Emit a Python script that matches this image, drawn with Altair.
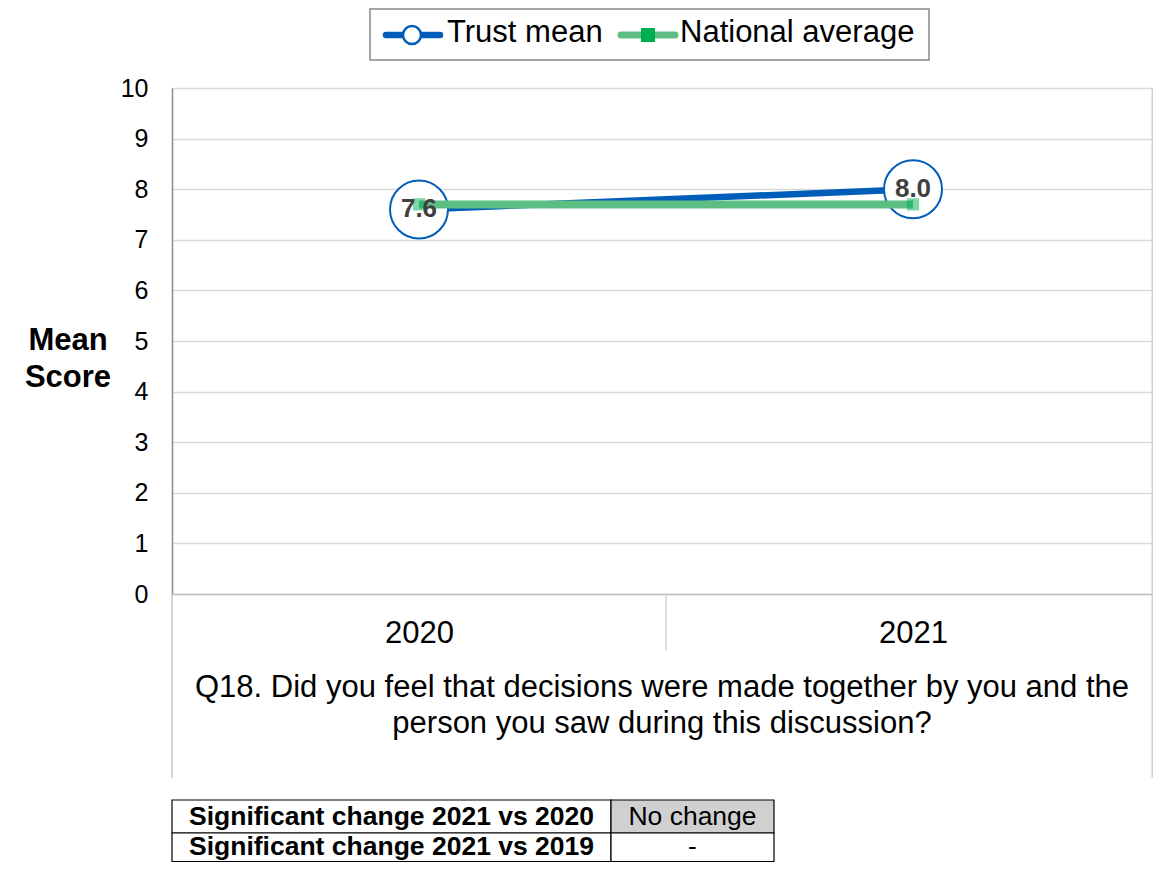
import altair as alt
import pandas as pd

# ---- data ----
years = ["2020", "2021"]
trust_mean = [7.6, 8.0]
national_average = [7.7, 7.7]
trust_labels = ["7.6", "8.0"]
y_ticks = [0, 1, 2, 3, 4, 5, 6, 7, 8, 9, 10]
question_lines = [
    "Q18. Did you feel that decisions were made together by you and the",
    "person you saw during this discussion?",
]
y_title_lines = ["Mean", "Score"]
legend_names = ["Trust mean", "National average"]
table_rows = ["Significant change 2021 vs 2020", "Significant change 2021 vs 2019"]
table_values = ["No change", "-"]

FONT = "Liberation Sans"
BLUE = "#005EB8"
GREEN_LINE = "#5DBE84"
GREEN_MARK = "#00B050"

W, H = 981, 506
BAND_RANGE = 988

trust_df = pd.DataFrame({"year": years, "value": trust_mean, "label": trust_labels})
nat_df = pd.DataFrame({"year": years, "value": national_average})

xscale = alt.Scale(domain=years, paddingInner=0, paddingOuter=0, range=[0, BAND_RANGE])
yscale = alt.Scale(domain=[0, 10], nice=False)

x_enc = alt.X(
    "year:N",
    scale=xscale,
    title=None,
    axis=alt.Axis(
        labelAngle=0,
        labelFontSize=31,
        labelFont=FONT,
        labelColor="black",
        labelPadding=24,
        ticks=False,
        domainColor="#BFBFBF",
        domainWidth=1.5,
        grid=False,
    ),
)
y_enc = alt.Y(
    "value:Q",
    scale=yscale,
    title=None,
    axis=alt.Axis(
        values=y_ticks,
        labelFontSize=25,
        labelFont=FONT,
        labelColor="black",
        labelPadding=24,
        ticks=False,
        domainColor="#8C8C8C",
        domainWidth=1.5,
        grid=True,
        gridColor="#D9D9D9",
        gridWidth=1.5,
    ),
)

blue_line = alt.Chart(trust_df).mark_line(color=BLUE, strokeWidth=6.5).encode(x=x_enc, y=y_enc)
blue_circles = alt.Chart(trust_df).mark_point(
    shape="circle", size=3364, filled=True, fill="white", stroke=BLUE, strokeWidth=2, opacity=1
).encode(x=alt.X("year:N", scale=xscale), y=alt.Y("value:Q", scale=yscale))
green_line = alt.Chart(nat_df).mark_line(color=GREEN_LINE, strokeWidth=8).encode(
    x=alt.X("year:N", scale=xscale), y=alt.Y("value:Q", scale=yscale)
)
green_marks = alt.Chart(nat_df).mark_point(
    shape="square", size=150, filled=True, color=GREEN_MARK, opacity=0.5
).encode(x=alt.X("year:N", scale=xscale), y=alt.Y("value:Q", scale=yscale))
labels = alt.Chart(trust_df).mark_text(
    font=FONT, fontSize=26, fontWeight="bold", color="#404040", baseline="middle", align="center"
).encode(x=alt.X("year:N", scale=xscale), y=alt.Y("value:Q", scale=yscale), text="label:N")

one = pd.DataFrame({"k": [0]})


def rule(x1, x2, y1, y2, color, width):
    return alt.Chart(one).mark_rule(color=color, strokeWidth=width).encode(
        x=alt.value(x1), x2=alt.value(x2), y=alt.value(y1), y2=alt.value(y2)
    )


def text(t, x, y, size, bold=False, align="center", color="black"):
    return alt.Chart(one).mark_text(
        font=FONT, fontSize=size, fontWeight="bold" if bold else "normal",
        align=align, baseline="middle", color=color
    ).encode(x=alt.value(x), y=alt.value(y), text=alt.value(t))


def rect(x1, x2, y1, y2, fill, stroke, sw):
    return alt.Chart(one).mark_rect(fill=fill, stroke=stroke, strokeWidth=sw).encode(
        x=alt.value(x1), x2=alt.value(x2), y=alt.value(y1), y2=alt.value(y2)
    )


layers = []
# frame lines (Excel multi-level category axis)
layers.append(rule(BAND_RANGE / 2, BAND_RANGE / 2, H, H + 56, "#D0D0D0", 1.5))
layers.append(rule(0, 0, H, 690, "#C8C8C8", 1.5))
layers.append(rule(W - 0.75, W - 0.75, 0, 690, "#D0D0D0", 1.5))

layers += [blue_line, blue_circles, green_line, green_marks, labels]

# question title
layers.append(text(question_lines[0], 490, 600, 31))
layers.append(text(question_lines[1], 490, 636, 31))
# y title
layers.append(text(y_title_lines[0], -104, 253, 31, bold=True))
layers.append(text(y_title_lines[1], -104, 290, 31, bold=True))

# legend
layers.append(rect(198, 757, -79, -28, "white", "#888888", 1.5))
layers.append(
    alt.Chart(one).mark_rule(color=BLUE, strokeWidth=6.5, strokeCap="round").encode(
        x=alt.value(214), x2=alt.value(268), y=alt.value(-53), y2=alt.value(-53)
    )
)
layers.append(
    alt.Chart(one).mark_point(shape="circle", size=324, filled=True, fill="white",
                              stroke=BLUE, strokeWidth=2.5, opacity=1).encode(
        x=alt.value(240), y=alt.value(-53)
    )
)
layers.append(text(legend_names[0], 275, -55, 31, align="left"))
layers.append(
    alt.Chart(one).mark_rule(color=GREEN_LINE, strokeWidth=7, strokeCap="round").encode(
        x=alt.value(449), x2=alt.value(503), y=alt.value(-53), y2=alt.value(-53)
    )
)
layers.append(
    alt.Chart(one).mark_point(shape="square", size=196, filled=True, color=GREEN_MARK, opacity=1).encode(
        x=alt.value(476), y=alt.value(-53)
    )
)
layers.append(text(legend_names[1], 508, -55, 31, align="left"))

# table
row_tops = [712, 745]
row_bots = [745, 773.5]
text_y = [728.5, 759]
fills = ["#D0D0D0", "white"]
for i in range(2):
    layers.append(rect(0, 439, row_tops[i], row_bots[i], "white", "black", 1.2))
    layers.append(rect(439, 602, row_tops[i], row_bots[i], fills[i], "black", 1.2))
    layers.append(text(table_rows[i], 219.5, text_y[i], 26.5, bold=True))
    layers.append(text(table_values[i], 520.5, text_y[i], 26.5))

chart = alt.layer(*layers).properties(
    width=W,
    height=H,
    padding={"left": 164, "top": 80, "right": 0, "bottom": 268},
    autosize=alt.AutoSizeParams(type="none"),
).configure_view(stroke=None).configure(background="white")

chart.save("out.html", embed_options={"renderer": "svg", "actions": False})
